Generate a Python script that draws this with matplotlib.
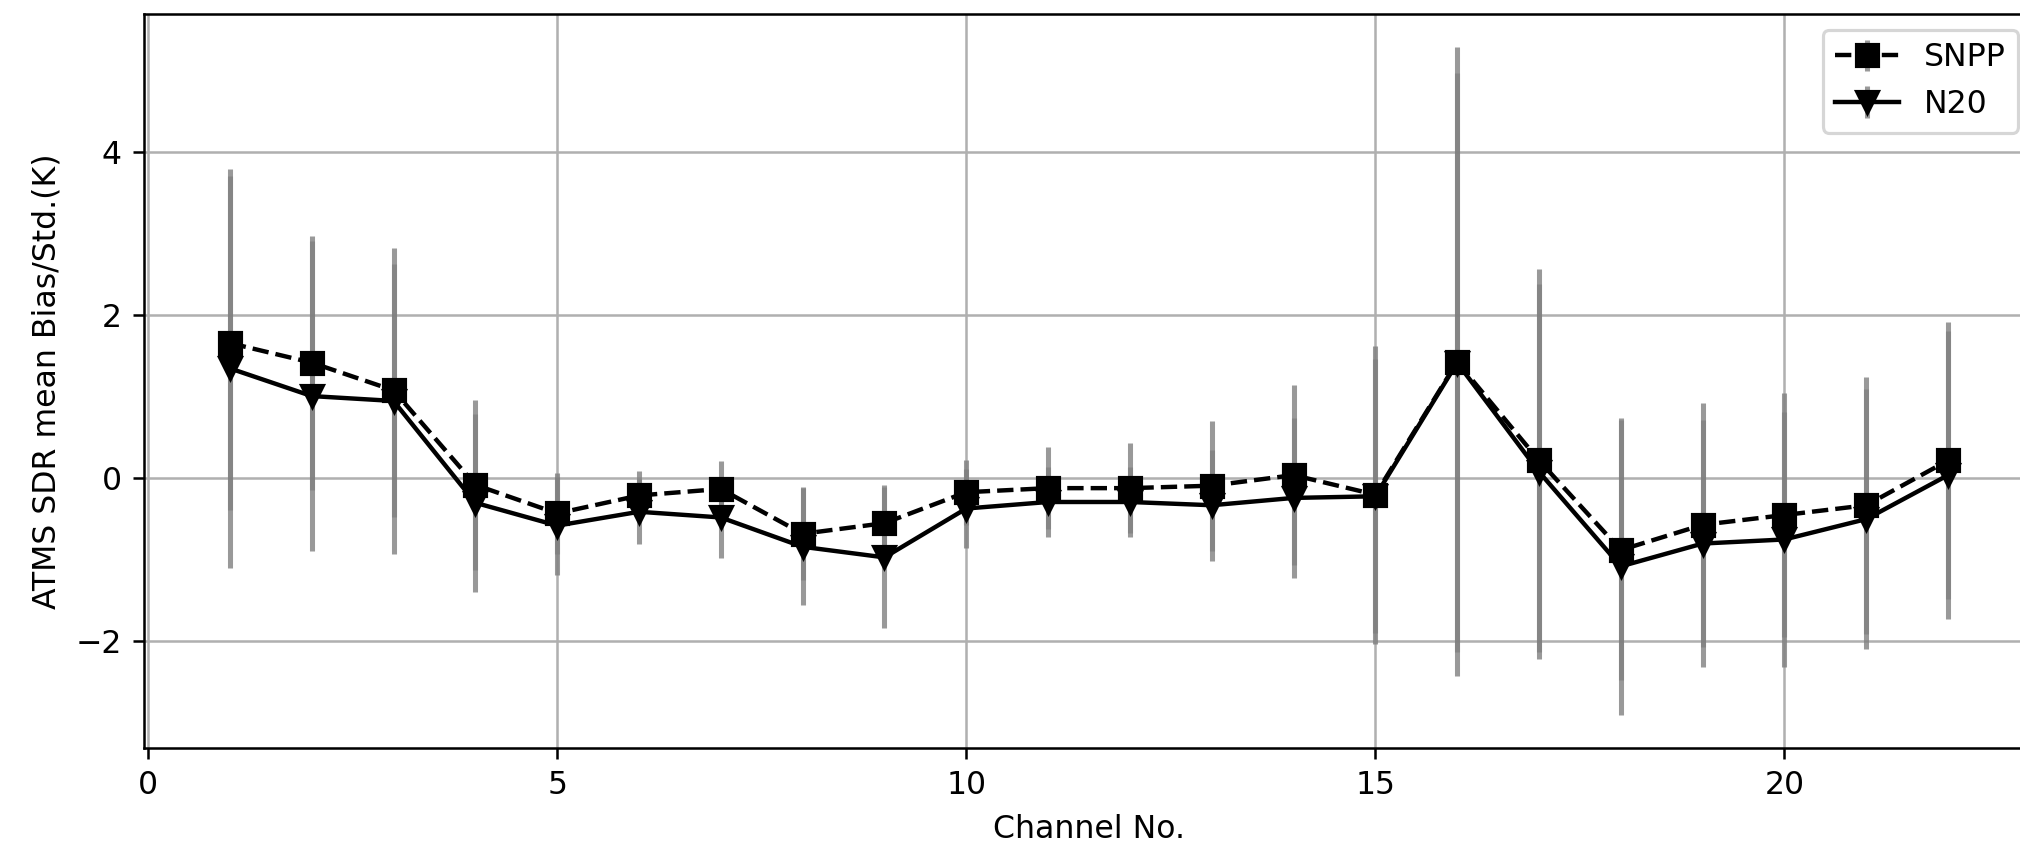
import matplotlib
matplotlib.use("Agg")
import matplotlib.pyplot as plt

canais = list(range(1, 23))

snpp_bias = [1.66, 1.42, 1.08, -0.08, -0.43, -0.21, -0.13, -0.68, -0.55, -0.17, -0.12,
             -0.12, -0.09, 0.04, -0.20, 1.43, 0.22, -0.88, -0.57, -0.45, -0.33, 0.22]
snpp_std = [2.05, 1.56, 1.55, 1.04, 0.50, 0.30, 0.34, 0.57, 0.47, 0.40, 0.50,
            0.55, 0.80, 1.10, 1.83, 3.86, 2.35, 1.60, 1.50, 1.50, 1.58, 1.70]

n20_bias = [1.35, 1.01, 0.95, -0.30, -0.58, -0.41, -0.48, -0.84, -0.97, -0.37, -0.29,
            -0.29, -0.33, -0.24, -0.22, 1.42, 0.08, -1.08, -0.80, -0.75, -0.50, 0.04]
n20_std = [2.45, 1.90, 1.88, 1.09, 0.60, 0.40, 0.50, 0.72, 0.87, 0.48, 0.43,
           0.43, 0.68, 0.98, 1.68, 3.55, 2.30, 1.82, 1.52, 1.57, 1.60, 1.77]

dpi = 227
fig = plt.figure(figsize=(2020 / dpi, 851 / dpi), dpi=dpi)
# eixo um pouco maior que a figura, a borda direita fica cortada como na original
ax = fig.add_axes([144 / 2020, 1 - 748 / 851, (2034 - 144) / 2020, (748 - 14) / 851])

cinza = (0.5, 0.5, 0.5, 0.8)
ax.errorbar(canais, snpp_bias, yerr=snpp_std, fmt="--s", color="k", ecolor=cinza,
            elinewidth=1.6, lw=1.4, markersize=7, label="SNPP")
ax.errorbar(canais, n20_bias, yerr=n20_std, fmt="-v", color="k", ecolor=cinza,
            elinewidth=1.6, lw=1.4, markersize=7, label="N20")

ax.grid(True)
ax.set_xlabel("Channel No.")
ax.set_ylabel("ATMS SDR mean Bias/Std.(K)")
ax.legend(loc="upper right")

fig.savefig("out.png", dpi=dpi)
